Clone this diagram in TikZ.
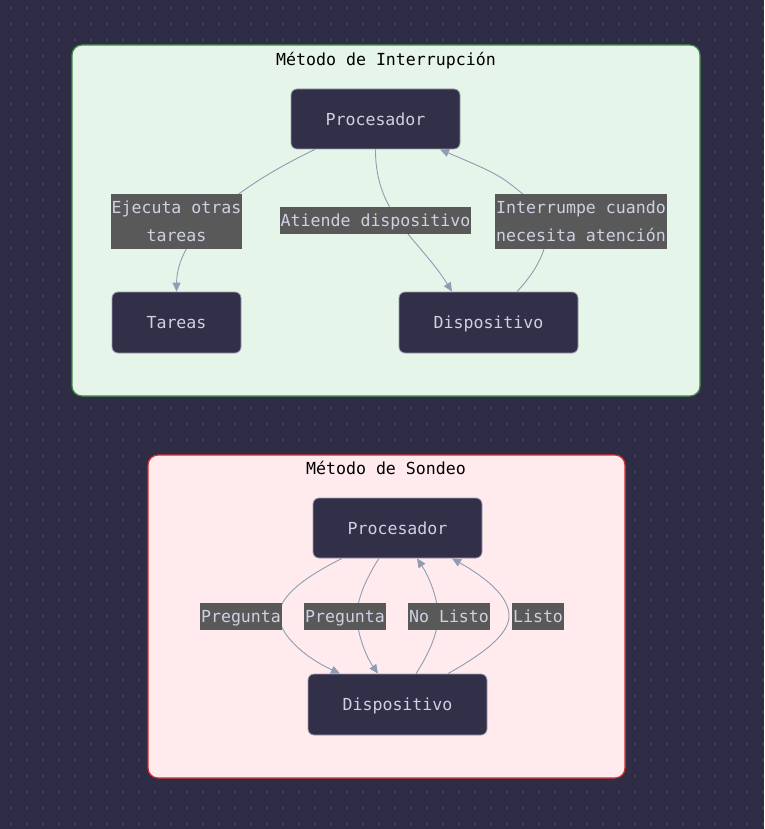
\documentclass[tikz,border=0pt]{standalone}
\usepackage{fontspec}
\setmonofont{DejaVu Sans Mono}
\usetikzlibrary{arrows.meta,calc}
\definecolor{bgc}{HTML}{2F2D45}
\definecolor{dotc}{HTML}{5A5872}
\definecolor{nodefill}{HTML}{322F48}
\definecolor{nodeline}{HTML}{9C9CB0}
\definecolor{nodetext}{HTML}{CDD1E2}
\definecolor{edgec}{HTML}{8F9CB2}
\definecolor{lblfill}{HTML}{595959}
\definecolor{greenfill}{HTML}{E6F5E9}
\definecolor{greenline}{HTML}{3E8E41}
\definecolor{pinkfill}{HTML}{FFEBEE}
\definecolor{redline}{HTML}{D32F2F}
\tikzset{
  mono/.style={font=\ttfamily\fontsize{16.6}{28}\selectfont},
  cluster/.style={draw, line width=1.2pt, rounded corners=10pt, inner sep=0pt},
  ctitle/.style={mono, text=black, inner sep=0pt, text height=14pt, text depth=1.5pt},
  box/.style={mono, draw=nodeline, fill=nodefill, text=nodetext, rounded corners=6pt,
    line width=0.8pt, inner sep=0pt, text height=14pt, text depth=1.5pt},
  lbl/.style={mono, fill=lblfill, text=nodetext, inner xsep=1pt, inner ysep=0pt,
    minimum height=27pt, text height=14pt, text depth=1.5pt},
  lbltwo/.style={mono, fill=lblfill, text=nodetext, inner xsep=1pt, inner ysep=0pt,
    minimum height=55pt, align=center},
  edge/.style={draw=edgec, line width=0.9pt, -{Triangle[length=9pt,width=8pt]}}
}
\begin{document}
\begin{tikzpicture}[x=1pt,y=-1pt]
\fill[bgc] (0,0) rectangle (764,829);
\useasboundingbox (0,0) rectangle (764,829);
\foreach \i in {0,...,47}{\foreach \j in {0,...,51}{\fill[dotc] (11+16*\i,8+16*\j) circle (0.8);}}
% clusters
\node[cluster, draw=greenline, fill=greenfill, minimum width=628pt, minimum height=351pt] (c1) at (386,220.5) {};
\node[ctitle] (c1t) at (386,59) {Método de Interrupción};
\node[cluster, draw=redline, fill=pinkfill, minimum width=477pt, minimum height=323pt] (c2) at (386.5,616.5) {};
\node[ctitle] (c2t) at (386,468) {Método de Sondeo};
% nodes
\node[box, minimum width=169pt, minimum height=60pt] (p1) at (375.5,119) {Procesador};
\node[box, minimum width=129pt, minimum height=61pt] (t1) at (176.5,322.5) {Tareas};
\node[box, minimum width=179pt, minimum height=61pt] (d1) at (488.5,322.5) {Dispositivo};
\node[box, minimum width=169pt, minimum height=60pt] (p2) at (397.5,528) {Procesador};
\node[box, minimum width=179pt, minimum height=61pt] (d2) at (397.5,704.5) {Dispositivo};
% edges cluster 1
\draw[edge] ([xshift=-60.5pt]p1.south) .. controls (230,190) and (177,238) .. (t1.north);
\draw[edge] (p1.south) .. controls (375,215) and (420,240) .. ([xshift=-36.5pt]d1.north);
\draw[edge] ([xshift=28.5pt]d1.north) .. controls (545,262) and (560,225) .. (530,200) .. controls (500,175) .. ([xshift=64.5pt]p1.south);
% edges cluster 2
\draw[edge] ([xshift=-55.5pt]p2.south) .. controls (295,582) and (279,600) .. (279,616) .. controls (279,632) and (300,655) .. ([xshift=-57.5pt]d2.north);
\draw[edge] ([xshift=-18.5pt]p2.south) .. controls (365,580) and (357,600) .. (357,616) .. controls (357,632) and (365,655) .. ([xshift=-19.5pt]d2.north);
\draw[edge] ([xshift=18.5pt]d2.north) .. controls (430,652) and (438,632) .. (438,616) .. controls (438,600) and (430,578) .. ([xshift=19.5pt]p2.south);
\draw[edge] ([xshift=50.5pt]d2.north) .. controls (490,650) and (509,632) .. (509,616) .. controls (509,598) and (490,580) .. ([xshift=54.5pt]p2.south);
% labels
\node[lbltwo] (l1) at (176.5,221.5) {Ejecuta otras\\tareas};
\node[lbl] (l2) at (375.5,220.5) {Atiende dispositivo};
\node[lbltwo] (l3) at (581,221.5) {Interrumpe cuando\\necesita atención};
\node[lbl] (l4) at (241,616.5) {Pregunta};
\node[lbl] (l5) at (345,616.5) {Pregunta};
\node[lbl] (l6) at (449,616.5) {No Listo};
\node[lbl] (l7) at (538,616.5) {Listo};
\end{tikzpicture}
\end{document}
